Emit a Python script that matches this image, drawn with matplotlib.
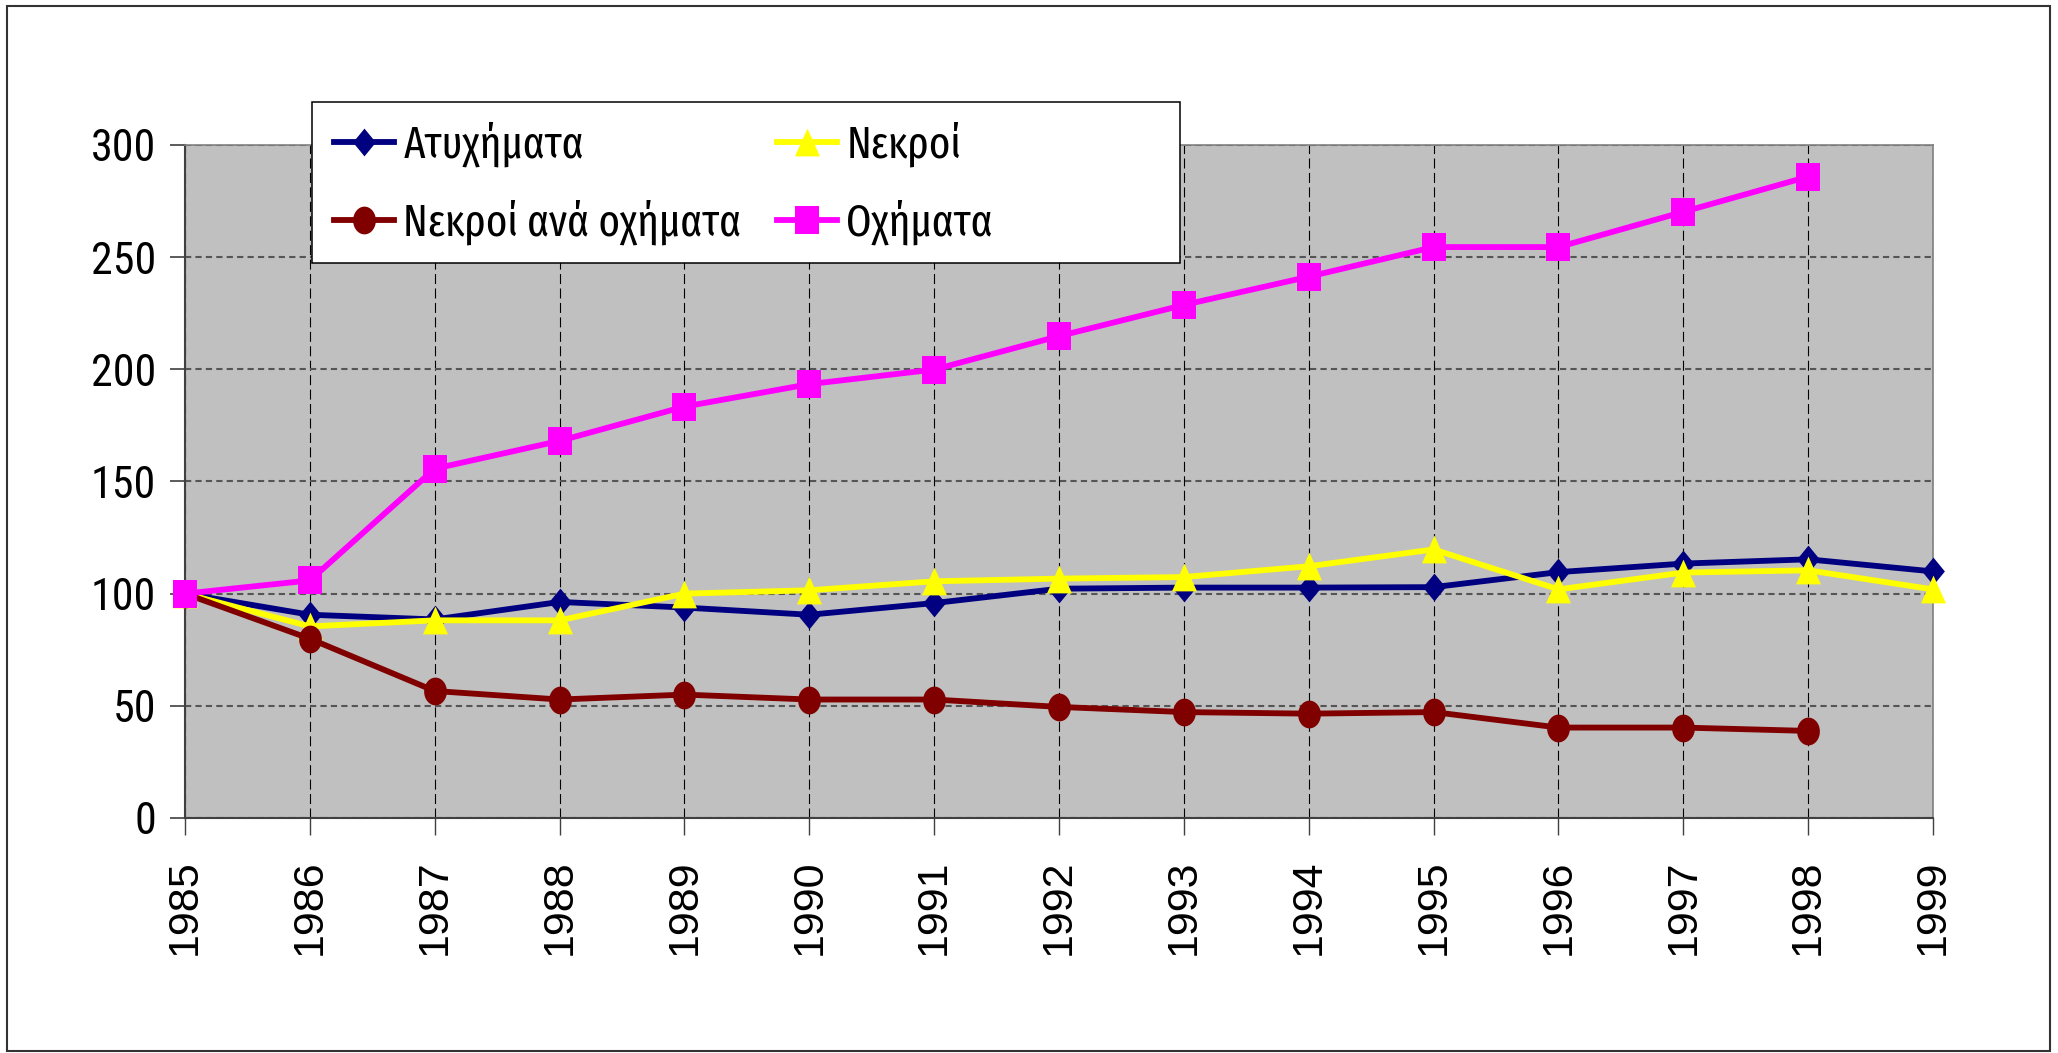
import numpy as np
import matplotlib
matplotlib.use('Agg')
import matplotlib.pyplot as plt
from matplotlib.patches import Rectangle

# Data (index, 1985 = 100)
years = ['1985', '1986', '1987', '1988', '1989', '1990', '1991', '1992',
         '1993', '1994', '1995', '1996', '1997', '1998', '1999']
atyximata = [100, 90.6, 88.5, 96.3, 93.8, 90.6, 95.8, 102.2, 102.7, 102.7,
             102.9, 109.6, 113.4, 115.3, 109.9]
nekroi = [100, 85.4, 88.1, 88.1, 100, 101.5, 105.5, 106.7, 107.4, 112.2,
          119.7, 101.9, 109.4, 110.4, 101.9]
nekroi_ana_oxhmata = [100, 79.9, 56.6, 52.8, 55.0, 52.8, 52.8, 49.5, 47.2,
                      46.5, 47.2, 40.3, 40.3, 38.8]
oxhmata = [100, 105.9, 155.7, 168.1, 183.4, 193.4, 199.9, 214.8, 228.7,
           241.3, 254.5, 254.5, 270.2, 285.9]

narrow = ['Roboto Condensed', 'DejaVu Sans']
legend_font = ['Fira Sans Extra Condensed', 'Roboto Condensed', 'DejaVu Sans']
regular = ['Liberation Sans', 'DejaVu Sans']

# marker shapes, a bit taller than wide like the original
diamond = [(0, 1), (0.82, 0), (0, -1), (-0.82, 0), (0, 1)]
t = np.linspace(0, 2 * np.pi, 40)
ellipse = list(zip(0.82 * np.cos(t), np.sin(t)))
triangle = [(0, 1), (0.9, -1), (-0.9, -1), (0, 1)]
square = [(-0.84, -1), (0.84, -1), (0.84, 1), (-0.84, 1), (-0.84, -1)]

series = [
    ('Ατυχήματα', atyximata, '#000080', diamond),
    ('Νεκροί', nekroi, '#FFFF00', triangle),
    ('Νεκροί ανά οχήματα', nekroi_ana_oxhmata, '#800000', ellipse),
    ('Οχήματα', oxhmata, '#FF00FF', square),
]

fig = plt.figure(figsize=(20.58, 10.53), dpi=100)
ax = fig.add_axes([0.0899, 0.2232, 0.8494, 0.6391])
ax.set_facecolor('#C0C0C0')

handles = []
for i, (name, vals, col, mk) in enumerate(series):
    x = np.arange(len(vals))
    h, = ax.plot(x, vals, color=col, lw=4.2, marker=mk, ms=20,
                 mfc=col, mec=col, mew=0, clip_on=False, zorder=3 + i,
                 label=name)
    handles.append(h)

ax.set_xlim(0, len(years) - 1)
ax.set_ylim(0, 300)
ax.set_xticks(np.arange(len(years)))
ax.set_xticklabels(years, rotation=90, family=regular, fontsize=31)
ax.set_yticks(np.arange(0, 301, 50))
ax.set_yticklabels([str(v) for v in range(0, 301, 50)], family=narrow,
                   fontsize=31.7)
ax.tick_params(axis='x', length=12, width=1, color='#404040', pad=18)
ax.tick_params(axis='y', length=11, width=1.2, color='#404040', pad=10)

ax.yaxis.grid(True, color='#555555', lw=1.5, linestyle=(0, (3, 2)))
ax.xaxis.grid(True, color='black', lw=0.8, linestyle=(0, (9, 4)))
ax.set_axisbelow(True)

for s in ['left', 'bottom']:
    ax.spines[s].set_color('#404040')
    ax.spines[s].set_linewidth(1.5)
for s in ['top', 'right']:
    ax.spines[s].set_color('#808080')
    ax.spines[s].set_linewidth(1.2)

# legend box (wider than its content, as in the original)
fig.patches.append(Rectangle((0.1516, 0.7502), 0.4218, 0.1529,
                             transform=fig.transFigure, facecolor='white',
                             edgecolor='black', lw=1.1, zorder=4))
order = [handles[0], handles[2], handles[1], handles[3]]
fig.legend(order, [h.get_label() for h in order], ncol=2, frameon=False,
           loc='upper left', bbox_to_anchor=(0.1623, 0.885),
           prop={'family': legend_font, 'size': 32}, numpoints=1,
           handlelength=1.36, handletextpad=0.2, columnspacing=0.8,
           labelspacing=0.75, borderpad=0, borderaxespad=0)

# outer chart border
fig.patches.append(Rectangle((7 / 2058, 2 / 1053), 2043 / 2058, 1045 / 1053,
                             transform=fig.transFigure, fill=False,
                             edgecolor='#333333', lw=1.5, zorder=10))

fig.savefig('out.png', dpi=100)
